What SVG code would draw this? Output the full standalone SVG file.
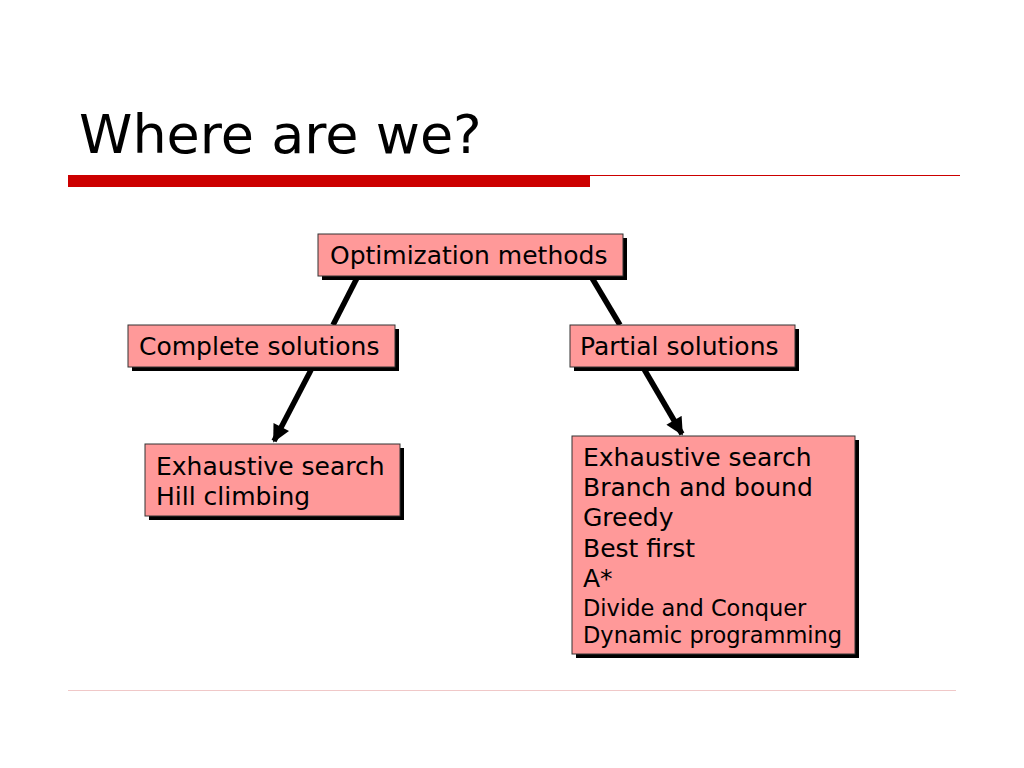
<svg xmlns="http://www.w3.org/2000/svg" width="1024" height="768" viewBox="0 0 1024 768">
<defs>
<style>
.box{fill:#ff9999;stroke:#333;stroke-width:1}
.sh{fill:#000}
.t{font-family:"DejaVu Sans",Verdana,sans-serif;font-size:25px;fill:#000}
.ts{font-family:"DejaVu Sans",Verdana,sans-serif;font-size:22.5px;fill:#000}
.edge{stroke:#000;stroke-width:5.5;fill:none}
</style>
<marker id="ah" viewBox="0 0 10 10" refX="9" refY="5" markerWidth="3.5" markerHeight="3.2" orient="auto" markerUnits="strokeWidth">
<path d="M0,0 L10,5 L0,10 z" fill="#000"/>
</marker>
</defs>
<rect width="1024" height="768" fill="#fff"/>
<text x="79" y="153" font-family="DejaVu Sans,Verdana,sans-serif" font-size="54" fill="#000">Where are we?</text>
<rect x="68" y="175" width="522" height="12" fill="#cc0000"/>
<line x1="590" y1="175.5" x2="960" y2="175.5" stroke="#cc0000" stroke-width="1"/>
<line x1="68" y1="690.5" x2="956" y2="690.5" stroke="#f0c8c8" stroke-width="1"/>
<g id="connectors">
<line class="edge" x1="311" y1="370" x2="274" y2="441" marker-end="url(#ah)"/>
<line class="edge" x1="357" y1="278" x2="333" y2="325"/>
<line class="edge" x1="592" y1="278" x2="620" y2="325"/>
<line class="edge" x1="644" y1="369" x2="682" y2="434" marker-end="url(#ah)"/>
</g>
<g id="node-opt">
<rect class="sh" x="322" y="238" width="305" height="42"/>
<rect class="box" x="318" y="234" width="305" height="42"/>
<text class="t" x="330" y="264">Optimization methods</text>
</g>
<g id="node-complete">
<rect class="sh" x="132" y="329" width="267" height="42"/>
<rect class="box" x="128" y="325" width="267" height="42"/>
<text class="t" x="139" y="355">Complete solutions</text>
</g>
<g id="node-partial">
<rect class="sh" x="574" y="329" width="225" height="42"/>
<rect class="box" x="570" y="325" width="225" height="42"/>
<text class="t" x="580" y="355">Partial solutions</text>
</g>
<g id="node-complete-methods">
<rect class="sh" x="149" y="448" width="255" height="72"/>
<rect class="box" x="145" y="444" width="255" height="72"/>
<text class="t" x="156" y="475">Exhaustive search</text>
<text class="t" x="156" y="505">Hill climbing</text>
</g>
<g id="node-partial-methods">
<rect class="sh" x="576" y="440" width="283" height="218"/>
<rect class="box" x="572" y="436" width="283" height="218"/>
<text class="t" x="583" y="466">Exhaustive search</text>
<text class="t" x="583" y="496">Branch and bound</text>
<text class="t" x="583" y="526">Greedy</text>
<text class="t" x="583" y="557">Best first</text>
<text class="t" x="583" y="587">A*</text>
<text class="ts" x="583" y="616">Divide and Conquer</text>
<text class="ts" x="583" y="643">Dynamic programming</text>
</g>
</svg>
